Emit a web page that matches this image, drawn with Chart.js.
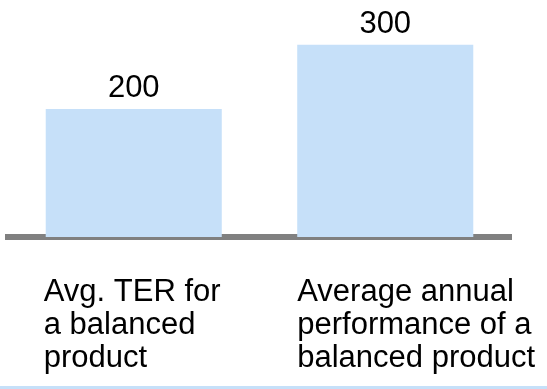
<!DOCTYPE html>
<html>
<head>
<meta charset="utf-8">
<script src="https://cdn.jsdelivr.net/npm/chart.js@4.4.1/dist/chart.umd.min.js"></script>
<style>
  html, body { margin: 0; padding: 0; background: #fff; }
  #wrap { width: 547px; height: 389px; position: relative; }
</style>
</head>
<body>
<div id="wrap"><canvas id="terChart"></canvas></div>
<script>
const categories = [
  ["Avg. TER for", "a balanced", "product"],
  ["Average annual", "performance of a", "balanced product"]
];
const values = [200, 300];
const yMax = 370;

const barColor = "#c6e0f9";
const baseColor = "#808080";
const textFont = "31px 'Liberation Sans', Arial, sans-serif";

// value over each bar, and the category text left aligned under the baseline
const barText = {
  id: "barText",
  afterDraw(chart, args, opts) {
    const ctx = chart.ctx;
    const meta = chart.getDatasetMeta(0);
    ctx.save();
    ctx.fillStyle = "#000";
    ctx.font = textFont;
    ctx.textBaseline = "alphabetic";
    meta.data.forEach((bar, i) => {
      ctx.textAlign = "center";
      ctx.fillText(String(values[i]), bar.x, bar.y - opts.valueGap);
      ctx.textAlign = "left";
      const left = bar.x - bar.width / 2 + opts.indent[i];
      categories[i].forEach((line, j) => {
        ctx.fillText(line, left, opts.firstLine + j * opts.lineGap);
      });
    });
    // thin light blue rule along the bottom edge
    ctx.fillStyle = barColor;
    ctx.fillRect(0, chart.height - 3, chart.width, 3);
    ctx.restore();
  }
};

new Chart(document.getElementById("terChart"), {
  type: "bar",
  data: {
    labels: categories.map(c => c.join(" ")),
    datasets: [{
      data: values,
      backgroundColor: barColor,
      borderWidth: 0,
      barPercentage: 0.7,
      categoryPercentage: 1
    }]
  },
  options: {
    responsive: true,
    maintainAspectRatio: false,
    animation: false,
    layout: {
      padding: { left: 8, right: 36, top: 0, bottom: 152 }
    },
    plugins: {
      legend: { display: false },
      tooltip: { enabled: false },
      barText: {
        valueGap: 12,
        indent: [-2, 0],
        firstLine: 301,
        lineGap: 33
      }
    },
    scales: {
      x: {
        z: 1,
        grid: { display: false, drawTicks: false },
        ticks: { display: false },
        border: { color: baseColor, width: 6 }
      },
      y: {
        display: false,
        min: 0,
        max: yMax
      }
    }
  },
  plugins: [barText]
});
</script>
</body>
</html>
